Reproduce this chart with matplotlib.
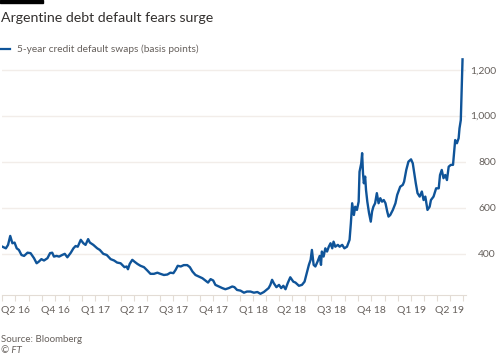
import matplotlib.pyplot as plt
import matplotlib.dates as mdates
from matplotlib.patches import Rectangle
import pandas as pd

plt.rcParams['font.family'] = ['Lato', 'DejaVu Sans']

# 5-year CDS, basis points
dates = [
    "2016-06-01", "2016-06-09", "2016-06-14", "2016-06-19", "2016-06-24", "2016-06-29",
    "2016-07-04", "2016-07-09", "2016-07-15", "2016-07-21", "2016-07-29", "2016-08-05",
    "2016-08-13", "2016-08-19", "2016-08-24", "2016-08-30", "2016-09-05", "2016-09-13",
    "2016-09-19", "2016-09-24", "2016-09-28", "2016-10-04", "2016-10-10", "2016-10-17",
    "2016-10-23", "2016-10-29", "2016-11-06", "2016-11-12", "2016-11-17", "2016-11-22",
    "2016-11-29", "2016-12-05", "2016-12-10", "2016-12-16", "2016-12-20", "2016-12-28",
    "2017-01-06", "2017-01-12", "2017-01-20", "2017-01-28", "2017-02-06", "2017-02-14",
    "2017-02-21", "2017-03-01", "2017-03-10", "2017-03-15", "2017-03-18", "2017-03-22",
    "2017-03-28", "2017-04-02", "2017-04-09", "2017-04-16", "2017-04-24", "2017-05-02",
    "2017-05-09", "2017-05-17", "2017-05-25", "2017-06-01", "2017-06-09", "2017-06-17",
    "2017-06-24", "2017-07-01", "2017-07-06", "2017-07-11", "2017-07-18", "2017-07-25",
    "2017-08-02", "2017-08-08", "2017-08-14", "2017-08-21", "2017-08-29", "2017-09-06",
    "2017-09-13", "2017-09-19", "2017-09-25", "2017-10-01", "2017-10-06", "2017-10-14",
    "2017-10-22", "2017-10-29", "2017-11-06", "2017-11-14", "2017-11-19", "2017-11-25",
    "2017-12-03", "2017-12-11", "2017-12-18", "2017-12-26", "2018-01-03", "2018-01-11",
    "2018-01-18", "2018-01-26", "2018-02-01", "2018-02-06", "2018-02-10", "2018-02-14",
    "2018-02-18", "2018-02-24", "2018-03-02", "2018-03-07", "2018-03-12", "2018-03-17",
    "2018-03-22", "2018-03-28", "2018-04-04", "2018-04-09", "2018-04-17", "2018-04-24",
    "2018-04-30", "2018-05-04", "2018-05-10", "2018-05-14", "2018-05-17", "2018-05-21",
    "2018-05-25", "2018-05-30", "2018-06-04", "2018-06-07", "2018-06-09", "2018-06-13",
    "2018-06-17", "2018-06-21", "2018-06-25", "2018-06-29", "2018-07-03", "2018-07-06",
    "2018-07-10", "2018-07-16", "2018-07-20", "2018-07-26", "2018-07-31", "2018-08-06",
    "2018-08-12", "2018-08-15", "2018-08-18", "2018-08-22", "2018-08-25", "2018-08-29",
    "2018-09-02", "2018-09-04", "2018-09-08", "2018-09-10", "2018-09-12", "2018-09-14",
    "2018-09-17", "2018-09-19", "2018-09-22", "2018-09-26", "2018-09-30", "2018-10-03",
    "2018-10-06", "2018-10-10", "2018-10-14", "2018-10-18", "2018-10-22", "2018-10-26",
    "2018-10-30", "2018-11-03", "2018-11-07", "2018-11-10", "2018-11-14", "2018-11-20",
    "2018-11-26", "2018-11-30", "2018-12-03", "2018-12-07", "2018-12-13", "2018-12-16",
    "2018-12-21", "2018-12-26", "2019-01-01", "2019-01-05", "2019-01-08", "2019-01-12",
    "2019-01-16", "2019-01-21", "2019-01-26", "2019-01-30", "2019-02-03", "2019-02-08",
    "2019-02-13", "2019-02-16", "2019-02-22", "2019-02-28", "2019-03-06", "2019-03-09",
    "2019-03-13", "2019-03-17", "2019-03-21", "2019-03-25", "2019-03-29", "2019-04-03",
    "2019-04-08", "2019-04-11", "2019-04-13", "2019-04-17", "2019-04-21", "2019-04-23",
    "2019-04-26", "2019-04-28", "2019-04-30",
]
cds = [
    430, 423, 438, 477, 445, 448,
    423, 416, 394, 390, 404, 402,
    380, 358, 365, 376, 370, 380,
    402, 404, 387, 390, 387, 394,
    399, 384, 404, 423, 433, 430,
    460, 445, 438, 463, 448, 438,
    423, 416, 399, 394, 376, 370,
    361, 358, 341, 344, 332, 355,
    373, 365, 355, 347, 341, 326,
    312, 312, 317, 312, 307, 309,
    317, 315, 329, 347, 344, 350,
    350, 341, 322, 307, 300, 293,
    283, 274, 289, 283, 264, 257,
    250, 245, 250, 257, 254, 242,
    239, 230, 235, 235, 230, 233,
    225, 233, 242, 250, 264, 286,
    271, 254, 264, 250, 260, 245,
    271, 297, 278, 274, 260, 264,
    278, 307, 351, 373, 416, 351,
    344, 365, 390, 351, 409, 387,
    423, 409, 430, 445, 423, 452,
    430, 438, 430, 438, 423, 430,
    460, 532, 619, 568, 604, 590,
    626, 756, 793, 837, 750, 706,
    735, 677, 626, 576, 539, 583,
    604, 619, 663, 619, 641, 626,
    633, 619, 583, 561, 568, 590,
    619, 655, 670, 691, 699, 713,
    764, 800, 810, 793, 756, 706,
    663, 648, 670, 633, 648, 590,
    604, 633, 648, 684, 684, 742,
    764, 728, 742, 720, 778, 786,
    786, 851, 894, 880, 902, 945,
    981, 1112, 1245,
]

tick_dates = ["2016-07-01", "2016-10-01", "2017-01-01", "2017-04-01", "2017-07-01",
              "2017-10-01", "2018-01-01", "2018-04-01", "2018-07-01", "2018-10-01",
              "2019-01-01", "2019-04-01"]
tick_labels = ["Q2 16", "Q4 16", "Q1 17", "Q2 17", "Q3 17", "Q4 17",
               "Q1 18", "Q2 18", "Q3 18", "Q4 18", "Q1 19", "Q2 19"]
y_ticks = [400, 600, 800, 1000, 1200]

blue = '#0f5499'
grey = '#66605c'
grid_col = '#f2ede9'
axis_col = '#e3dcd5'

fig = plt.figure(figsize=(5, 3.57), dpi=100)
ax = fig.add_axes([0.004, 0.1737, 0.928, 0.6723])

ax.plot(pd.to_datetime(dates), cds, color=blue, linewidth=1.7, solid_joinstyle='round')

ax.set_xlim(pd.Timestamp("2016-05-31"), pd.Timestamp("2019-05-08"))
ax.set_ylim(220, 1264)

ax.set_yticks(y_ticks)
ax.set_yticklabels([f"{v:,}" for v in y_ticks])
ax.yaxis.tick_right()
ax.tick_params(axis='y', length=0, pad=21.6, labelsize=7.5, labelcolor=grey)
for lab in ax.get_yticklabels():
    lab.set_horizontalalignment('right')
ax.grid(axis='y', color=grid_col, linewidth=1.0)
ax.set_axisbelow(True)

ax.set_xticks(pd.to_datetime(tick_dates))
ax.set_xticklabels(tick_labels)
ax.xaxis.set_minor_locator(mdates.MonthLocator())
ax.tick_params(axis='x', which='both', length=4.5, width=0.8, color=axis_col,
               labelsize=7.5, labelcolor=grey, pad=3.5)

for s in ['top', 'left', 'right']:
    ax.spines[s].set_visible(False)
ax.spines['bottom'].set_color(axis_col)
ax.spines['bottom'].set_linewidth(0.8)

# header
fig.patches.append(Rectangle((0, 1 - 3 / 357), 43 / 500, 3 / 357,
                             transform=fig.transFigure, color='black'))
fig.text(0.002, 1 - 22.3 / 357, "Argentine debt default fears surge",
         fontsize=10.2, color='#33302e', va='baseline', ha='left')
fig.lines.append(plt.Line2D([0, 10 / 500], [1 - 48.5 / 357] * 2, transform=fig.transFigure,
                            color=blue, linewidth=1.6))
fig.text(17 / 500, 1 - 52.3 / 357, "5-year credit default swaps (basis points)",
         fontsize=7.3, color=grey, va='baseline', ha='left')

# footer
fig.text(0.002, 1 - 342 / 357, "Source: Bloomberg", fontsize=7, color=grey,
         va='baseline', ha='left')
fig.text(0.002, 1 - 352.7 / 357, "© FT", fontsize=7, color=grey, style='italic',
         va='baseline', ha='left')

fig.savefig('out.png', dpi=100, facecolor='white')
